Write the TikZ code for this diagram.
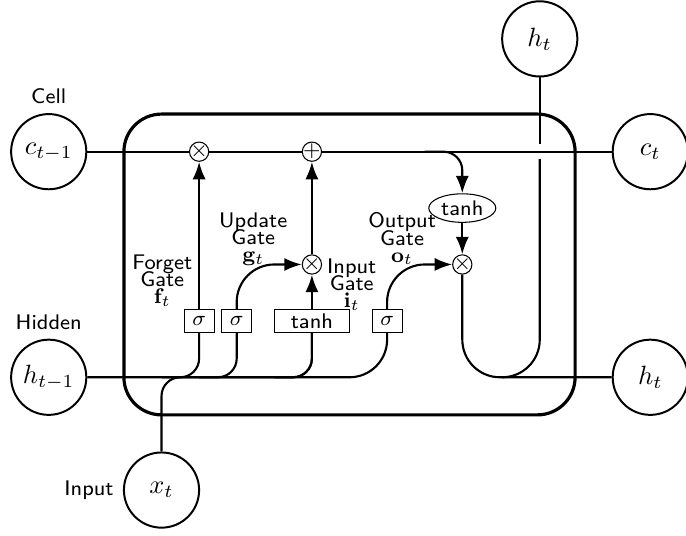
\documentclass[tikz,border=0pt]{standalone}
\usepackage{amsmath,amssymb}
\usepackage{xcolor,tikz}
\usetikzlibrary{arrows.meta,positioning,calc,shapes.geometric}
\tikzset{cellbox/.style={draw,very thick,rounded corners=5mm,minimum width=6cm,minimum height=4cm},
 op/.style={circle,draw,inner sep=-0.5pt,minimum height=.2cm},
 fn/.style={ellipse,draw,inner sep=1pt},
 ext/.style={circle,draw,line width=.75pt,minimum width=1cm,inner sep=1pt,font=\normalsize},
 gbox/.style={draw,minimum width=4mm,minimum height=3mm,inner sep=1pt},
 lbl/.style={font=\footnotesize\sffamily},
 gatetxt/.style={align=center,font=\footnotesize\sffamily},
 wire/.style={thick,rounded corners=.25cm},bigwire/.style={thick,rounded corners=.5cm},
 flow/.style={-{Latex},thick,rounded corners=.5cm}}

\begin{document}
\begin{tikzpicture}[font=\sffamily\footnotesize]
\useasboundingbox (-4.648,-3.610) rectangle (4.475,3.517);
\node[cellbox](cell) at (0,0){};
\node[gbox](s1) at (-2,-.75){$\sigma$};\node[gbox](s2) at (-1.5,-.75){$\sigma$};
\node[gbox,minimum width=1cm](th) at (-.5,-.75){tanh};\node[gbox](s3) at (.5,-.75){$\sigma$};
\node[op](fx) at (-2,1.5){$\times$};\node[op](ad) at (-.5,1.5){$+$};
\node[op](ix) at (-.5,0){$\times$};\node[op](ox) at (1.5,0){$\times$};
\node[fn](tc) at (1.5,.75){tanh};
\node[ext,label={[lbl]Cell}](cin) at (-4,1.5){$c_{t-1}$};
\node[ext,label={[lbl]Hidden}](hin) at (-4,-1.5){$h_{t-1}$};
\node[ext,label={[lbl]left:Input}](xin) at (-2.5,-3){$x_t$};
\node[ext](cout) at (4,1.5){$c_t$};\node[ext](hout) at (4,-1.5){$h_t$};\node[ext](htop) at (2.53,3){$h_t$};
\node[gatetxt](fl) at (-2.49,-.21){Forget\\[-3pt]Gate\\[-3pt]$\mathbf{f}_t$};
\node[gatetxt](ul) at (-1.28,.34){Update\\[-3pt]Gate\\[-3pt]$\mathbf{g}_t$};
\node[gatetxt](il) at (.03,-.27){Input\\[-3pt]Gate\\[-3pt]$\mathbf{i}_t$};
\node[gatetxt](ol) at (.7,.34){Output\\[-3pt]Gate\\[-3pt]$\mathbf{o}_t$};
% branch points on the hidden line
\coordinate(b1) at ($(hin-|s1)+(-.5,0)$);\coordinate(b2) at ($(hin-|s2)+(-.5,0)$);
\coordinate(b3) at ($(hin-|th)+(-.5,0)$);\coordinate(b4) at ($(ad-|tc)+(-.5,0)$);
\coordinate(b5) at ($(hout-|htop)+(-.5,0)$);
\coordinate(g1) at ($(cout-|htop)+(0,-.1)$);\coordinate(g2) at ($(cout-|htop)+(0,.1)$);
\draw[wire](cin)--(fx)--(ad)--(cout);
\draw[bigwire](hin)-|(s3);
\draw[wire](b1)-|(s1);\draw[wire](b2)-|(s2);\draw[wire](b3)-|(th);
\draw[wire](xin)--(xin|-hin)-|(th);
\draw[flow](s1)--(fx);\draw[flow](s2)|-(ix);\draw[flow](th)--(ix);\draw[flow](s3)|-(ox);
\draw[flow](ix)--(ad);\draw[wire,-{Latex}](b4)-|(tc);\draw[flow](tc)--(ox);
\draw[bigwire](ox)|-(hout);
\draw[bigwire](b5)-|(g1);\draw[bigwire](g2)--(htop);
\end{tikzpicture}
\end{document}
